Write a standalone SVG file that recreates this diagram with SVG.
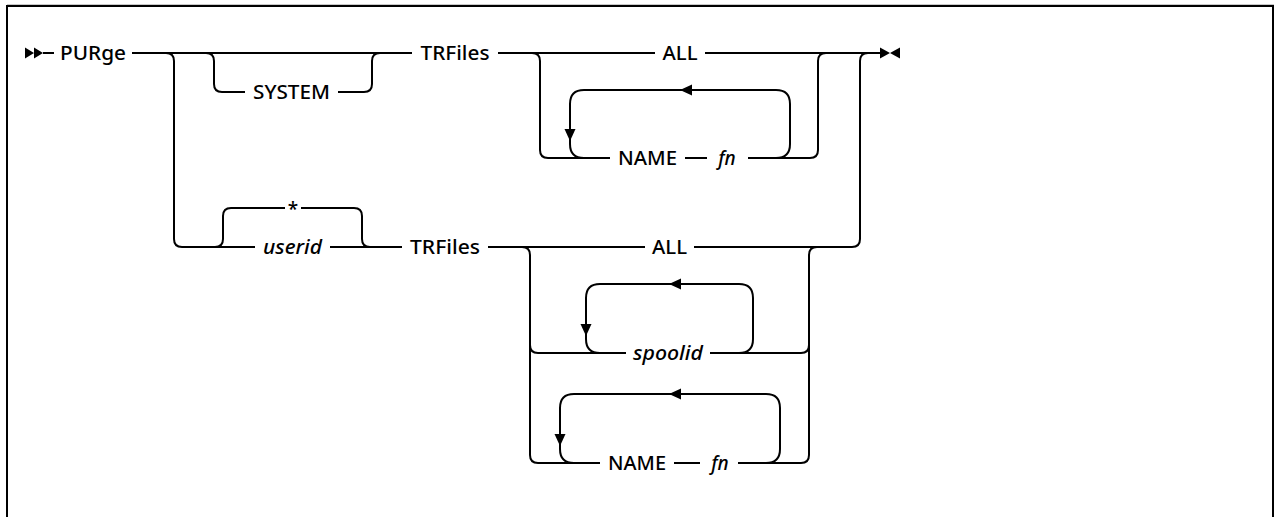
<svg xmlns="http://www.w3.org/2000/svg" width="1274" height="517" viewBox="0 0 1274 517">
<style>
.ln{fill:none;stroke:#000;stroke-width:2;}
.ar{fill:#000;stroke:none;}
text{font-family:"Noto Sans","Liberation Sans",sans-serif;font-size:19px;font-weight:500;fill:#000;text-anchor:middle;}
.it{font-style:italic;}
</style>
<rect x="0" y="0" width="1274" height="517" fill="#fff"/>
<g id="frame">
<line x1="7" y1="4.5" x2="1274" y2="4.5" stroke="#c8c8c8" stroke-width="1"/>
<path class="ln" d="M7,517 V6 H1273 V517"/>
</g>
<g id="connectors">
<!-- start marker -->
<path class="ar" d="M25,47.5 L34,53 L25,58.5 Z M34,47.5 L43,53 L34,58.5 Z"/>
<path class="ln" d="M43,53 H54"/>
<!-- main line top -->
<path class="ln" d="M132,53 H412"/>
<!-- SYSTEM bypass -->
<path class="ln" d="M206,53 q8,0 8,8 V84 q0,8 8,8 H245"/>
<path class="ln" d="M338,92 H364 q8,0 8,-8 V61 q0,-8 8,-8"/>
<!-- branch down to userid line -->
<path class="ln" d="M166,53 q8,0 8,8 V239 q0,8 8,8 H255"/>
<!-- * default branch -->
<path class="ln" d="M215,247 q8,0 8,-8 V216 q0,-8 8,-8 H285"/>
<path class="ln" d="M301,208 H354 q8,0 8,8 V239 q0,8 8,8"/>
<path class="ln" d="M330,247 H402"/>
<!-- upper TRFiles options -->
<path class="ln" d="M498,53 H655"/>
<path class="ln" d="M705,53 H880"/>
<path class="ln" d="M532,53 q8,0 8,8 V150 q0,8 8,8 H610"/>
<path class="ln" d="M685,158 H707"/>
<path class="ln" d="M748,158 H810 q8,0 8,-8 V61 q0,-8 8,-8"/>
<!-- upper repeat loop -->
<path class="ln" d="M776,158 q14,0 14,-14 V104 q0,-14 -14,-14 H584 q-14,0 -14,14 V144 q0,14 14,14"/>
<path class="ar" d="M680,90 L692,84.5 L692,95.5 Z"/>
<path class="ar" d="M570,141 L564.5,129 L575.5,129 Z"/>
<!-- lower TRFiles options -->
<path class="ln" d="M488,247 H645"/>
<path class="ln" d="M694,247 H852 q8,0 8,-8 V61 q0,-8 8,-8"/>
<path class="ln" d="M522,247 q8,0 8,8 V455 q0,8 8,8 H600"/>
<path class="ln" d="M530,345 q0,8 8,8 H626"/>
<path class="ln" d="M710,353 H801 q8,0 8,-8"/>
<path class="ln" d="M674,463 H700"/>
<path class="ln" d="M738,463 H801 q8,0 8,-8 V255 q0,-8 8,-8"/>
<!-- spoolid loop -->
<path class="ln" d="M739,353 q14,0 14,-14 V298 q0,-14 -14,-14 H600 q-14,0 -14,14 V339 q0,14 14,14"/>
<path class="ar" d="M669,284 L681,278.5 L681,289.5 Z"/>
<path class="ar" d="M586,336 L580.5,324 L591.5,324 Z"/>
<!-- lower NAME loop -->
<path class="ln" d="M766,463 q14,0 14,-14 V408 q0,-14 -14,-14 H574 q-14,0 -14,14 V449 q0,14 14,14"/>
<path class="ar" d="M669,394 L681,388.5 L681,399.5 Z"/>
<path class="ar" d="M560,446 L554.5,434 L565.5,434 Z"/>
<!-- end marker -->
<path class="ar" d="M880,47.5 L890,53 L880,58.5 Z M900,47.5 L890,53 L900,58.5 Z"/>
</g>
<g id="n-purge"><text x="93" y="60" textLength="66" lengthAdjust="spacingAndGlyphs">PURge</text></g>
<g id="n-system"><text x="291.5" y="99" textLength="77" lengthAdjust="spacingAndGlyphs">SYSTEM</text></g>
<g id="n-star"><text x="293" y="216">*</text></g>
<g id="n-userid"><text class="it" x="292.5" y="254" textLength="59" lengthAdjust="spacingAndGlyphs">userid</text></g>
<g id="n-trfiles1"><text x="455" y="60" textLength="69" lengthAdjust="spacingAndGlyphs">TRFiles</text></g>
<g id="n-all1"><text x="680" y="60" textLength="35" lengthAdjust="spacingAndGlyphs">ALL</text></g>
<g id="n-name1"><text x="647.5" y="165" textLength="59" lengthAdjust="spacingAndGlyphs">NAME</text></g>
<g id="n-fn1"><text class="it" x="727" y="165">fn</text></g>
<g id="n-trfiles2"><text x="445" y="254" textLength="70" lengthAdjust="spacingAndGlyphs">TRFiles</text></g>
<g id="n-all2"><text x="669.5" y="254" textLength="35" lengthAdjust="spacingAndGlyphs">ALL</text></g>
<g id="n-spoolid"><text class="it" x="668" y="360" textLength="70" lengthAdjust="spacingAndGlyphs">spoolid</text></g>
<g id="n-name2"><text x="637" y="470" textLength="58" lengthAdjust="spacingAndGlyphs">NAME</text></g>
<g id="n-fn2"><text class="it" x="720" y="470">fn</text></g>
</svg>
